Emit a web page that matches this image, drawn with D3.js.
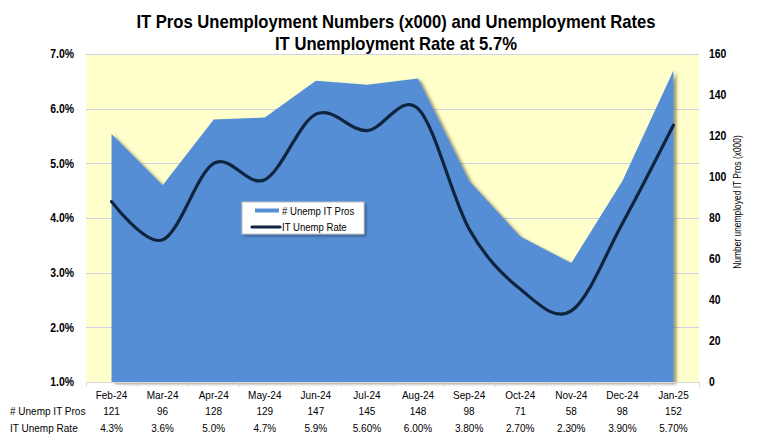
<!DOCTYPE html>
<html><head><meta charset="utf-8">
<script src="https://cdn.jsdelivr.net/npm/d3@7"></script>
<style>
body{margin:0;background:#fff}
svg{display:block}
text{font-family:"Liberation Sans","Arial",sans-serif;fill:#000}
</style>
</head><body>
<svg id="c" width="759" height="447"></svg>
<script>
const months = ["Feb-24","Mar-24","Apr-24","May-24","Jun-24","Jul-24","Aug-24","Sep-24","Oct-24","Nov-24","Dec-24","Jan-25"];
const unempPros = [121,96,128,129,147,145,148,98,71,58,98,152];
const unempRate = [4.3,3.6,5.0,4.7,5.9,5.6,6.0,3.8,2.7,2.3,3.9,5.7];
const rateLabels = ["4.3%","3.6%","5.0%","4.7%","5.9%","5.60%","6.00%","3.80%","2.70%","2.30%","3.90%","5.70%"];
const leftTicks = [1,2,3,4,5,6,7];
const rightTicks = [0,20,40,60,80,100,120,140,160];
const titleLines = ["IT Pros Unemployment Numbers (x000) and Unemployment Rates","IT Unemployment Rate at 5.7%"];
const seriesNames = ["# Unemp IT Pros","IT Unemp Rate"];
const rightAxisTitle = "Number unemployed IT Pros (x000)";

const svg = d3.select("#c");
const L = 86, R = 699, T = 54, B = 382;
const x = d3.scaleBand().domain(months).range([L, R]);
const cx = m => x(m) + x.bandwidth()/2;
const yL = d3.scaleLinear().domain([1,7]).range([B, T]);
const yR = d3.scaleLinear().domain([0,160]).range([B, T]);

const defs = svg.append("defs");
const f = defs.append("filter").attr("id","sh").attr("x","-10%").attr("y","-10%").attr("width","130%").attr("height","130%");
f.append("feDropShadow").attr("dx",3).attr("dy",2).attr("stdDeviation",1.8).attr("flood-color","#3a3000").attr("flood-opacity",0.5);
const f2 = defs.append("filter").attr("id","sh2").attr("x","-10%").attr("y","-10%").attr("width","130%").attr("height","130%");
f2.append("feDropShadow").attr("dx",2).attr("dy",2).attr("stdDeviation",1.2).attr("flood-color","#000").attr("flood-opacity",0.3);

// plot background
svg.append("rect").attr("x",L).attr("y",T).attr("width",R-L).attr("height",B-T).attr("fill","#FFFFCC");

// gridlines
svg.append("g").selectAll("line").data(leftTicks.filter(d=>d>1)).join("line")
  .attr("x1",L).attr("x2",R).attr("y1",d=>Math.round(yL(d))+0.5).attr("y2",d=>Math.round(yL(d))+0.5)
  .attr("stroke","#d0d0e4").attr("stroke-width",1);

// area
const area = d3.area().x((d,i)=>cx(months[i])).y0(yR(0)).y1(d=>yR(d));
svg.append("path").datum(unempPros).attr("d",area).attr("fill","#558ED5").attr("filter","url(#sh)");

// line
const line = d3.line().x((d,i)=>cx(months[i])).y(d=>yL(d)).curve(d3.curveCardinal.tension(0));
svg.append("path").datum(unempRate).attr("d",line).attr("fill","none")
  .attr("stroke","#0F243E").attr("stroke-width",3.2).attr("stroke-linecap","round");

// bottom axis line + boundary ticks
svg.append("line").attr("x1",L).attr("x2",R).attr("y1",B+0.5).attr("y2",B+0.5).attr("stroke","#d9d9d9");
const bounds = months.map(m=>x(m)).concat([R]);
svg.append("g").selectAll("line").data(bounds).join("line")
  .attr("x1",d=>Math.round(d)+0.5).attr("x2",d=>Math.round(d)+0.5).attr("y1",B).attr("y2",B+5).attr("stroke","#d9d9d9");

// left axis
const gl = svg.append("g").attr("transform",`translate(${L},0)`)
  .call(d3.axisLeft(yL).tickValues(leftTicks).tickFormat(d=>d.toFixed(1)+"%").tickSize(0).tickPadding(12));
gl.select(".domain").remove();
gl.selectAll("text").style("font-family",null).attr("font-size",12).attr("font-weight","bold").attr("fill","#000");

// right axis
const gr = svg.append("g").attr("transform",`translate(${R},0)`)
  .call(d3.axisRight(yR).tickValues(rightTicks).tickSize(0).tickPadding(10));
gr.select(".domain").remove();
gr.selectAll("text").style("font-family",null).attr("font-size",12).attr("font-weight","bold").attr("fill","#000");

// right axis title
svg.append("text").attr("class","rt").attr("transform","translate(741,202) rotate(-90)").attr("text-anchor","middle")
  .attr("font-size",10.5).text(rightAxisTitle);

// category labels + table
const g = svg.append("g");
g.selectAll(".cat").data(months).join("text").attr("class","cat")
  .attr("x",d=>cx(d)).attr("y",399).attr("text-anchor","middle").attr("font-size",11.5).text(d=>d);
g.selectAll(".v1").data(unempPros).join("text").attr("class","v1")
  .attr("x",(d,i)=>cx(months[i])).attr("y",415).attr("text-anchor","middle").attr("font-size",11.5).text(d=>d);
g.selectAll(".v2").data(rateLabels).join("text").attr("class","v2")
  .attr("x",(d,i)=>cx(months[i])).attr("y",432).attr("text-anchor","middle").attr("font-size",11.5).text(d=>d);
g.append("text").attr("x",10).attr("y",415).attr("font-size",11.5).text(seriesNames[0]);
g.append("text").attr("x",10).attr("y",432).attr("font-size",11.5).text(seriesNames[1]);

// title
svg.append("g").selectAll("text").data(titleLines).join("text").attr("class","ttl")
  .attr("x",396).attr("y",(d,i)=>28+i*22).attr("text-anchor","middle")
  .attr("font-size",19).attr("font-weight","bold").attr("fill","#0d0d0d").text(d=>d);

// legend
const lg = svg.append("g").attr("transform","translate(242,202)");
lg.append("rect").attr("width",122).attr("height",32).attr("fill","#fff").attr("stroke","#bfbfbf").attr("filter","url(#sh2)");
lg.append("line").attr("x1",13).attr("x2",37).attr("y1",8.5).attr("y2",8.5).attr("stroke","#558ED5").attr("stroke-width",4);
lg.append("line").attr("x1",10).attr("x2",38).attr("y1",25).attr("y2",25).attr("stroke","#0F243E").attr("stroke-width",3.2).attr("stroke-linecap","round");
lg.selectAll(".lt").data(seriesNames).join("text").attr("class","lt")
  .attr("x",40).attr("y",(d,i)=>12.5+i*16.5).attr("font-size",11).text(d=>d);

// narrow the glyphs to mimic a condensed (Calibri-like) face
svg.selectAll("text").each(function(){
  const w = this.getComputedTextLength();
  const k = this.classList.contains("ttl") ? 0.875 : (this.classList.contains("rt") ? 0.8 : 0.87);
  this.setAttribute("textLength", (w*k).toFixed(1));
  this.setAttribute("lengthAdjust","spacingAndGlyphs");
});
</script>
</body></html>
